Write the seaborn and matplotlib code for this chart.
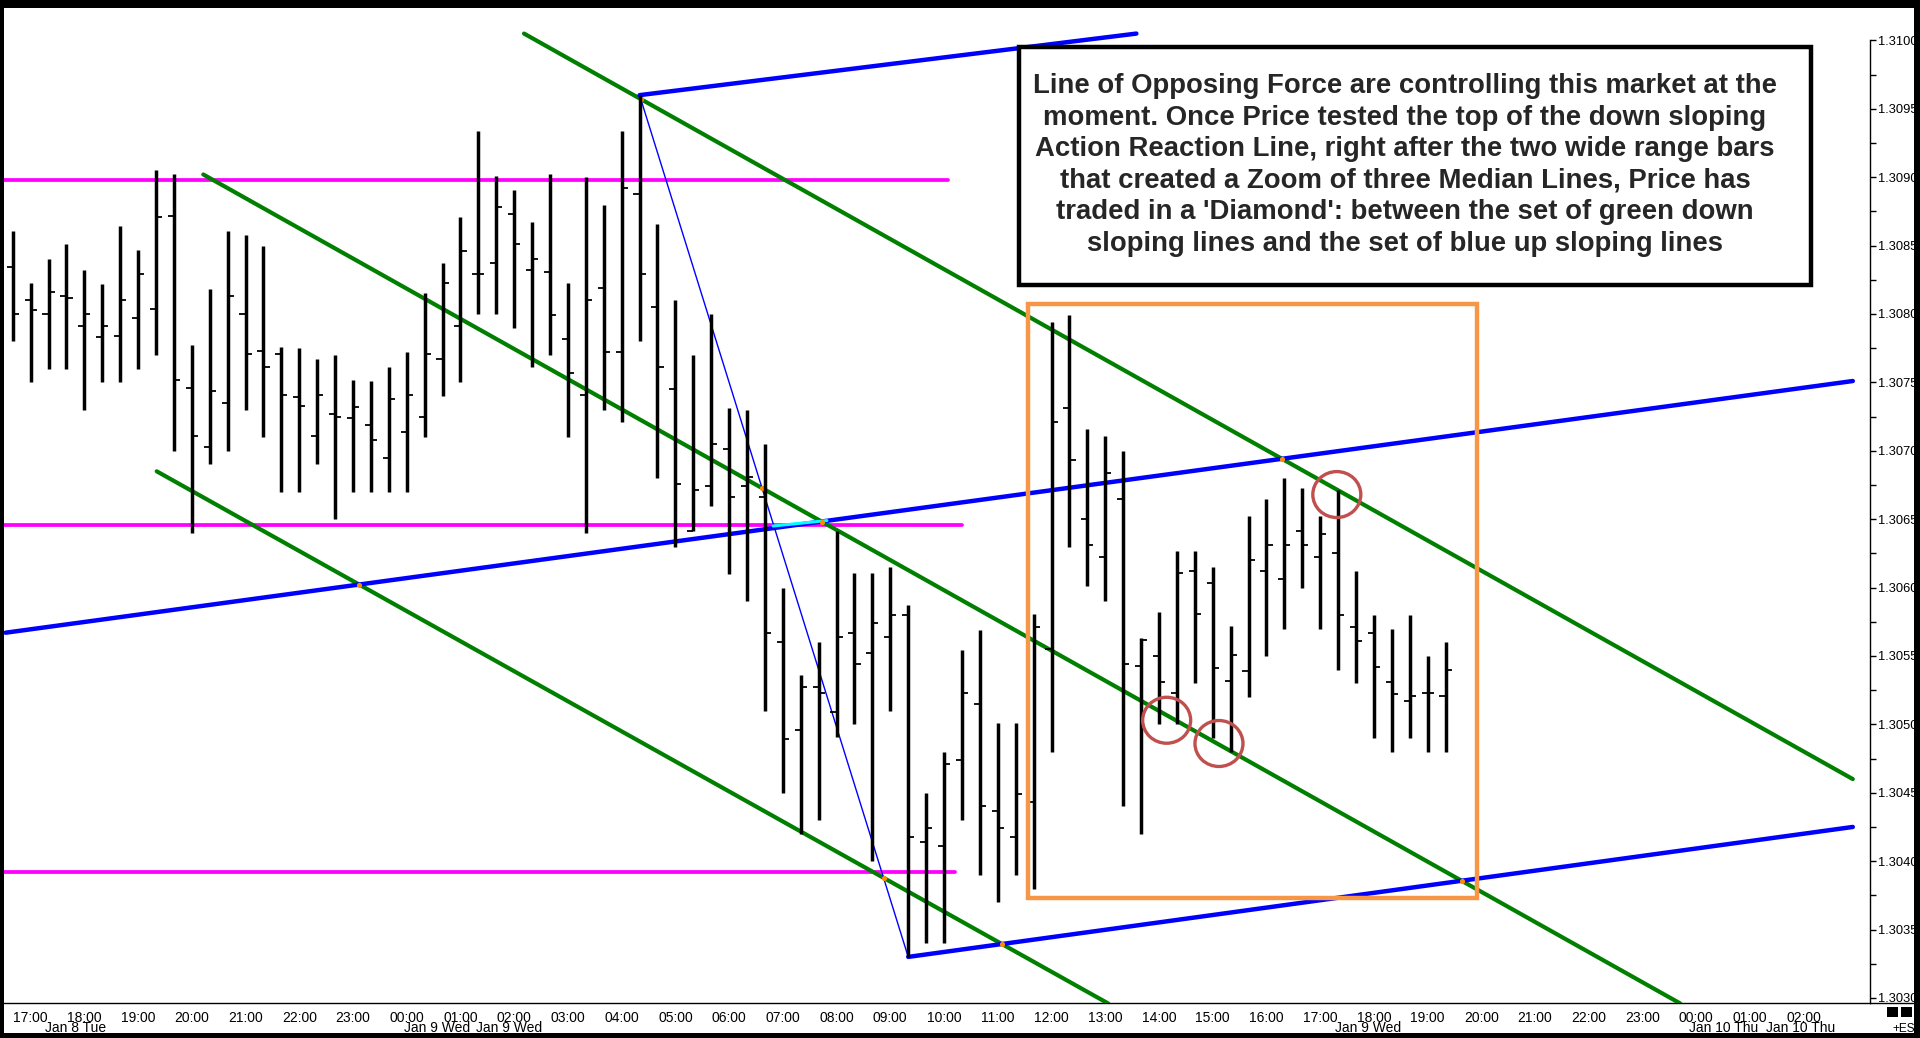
import numpy as np
import pandas as pd
import seaborn as sns
import matplotlib.pyplot as plt
from matplotlib.patches import Rectangle, Ellipse
from matplotlib.lines import Line2D
from matplotlib.ticker import MultipleLocator, FormatStrFormatter

# 20 minute EUR bars, Jan 8 16:40 -> Jan 9 19:20
opens = [1.30834, 1.30810, 1.30800, 1.30813, 1.30791, 1.30783, 1.30784, 1.30797, 1.30804, 1.30872,
         1.30746, 1.30703, 1.30735, 1.30800, 1.30773, 1.30771, 1.30739, 1.30711, 1.30727, 1.30724,
         1.30719, 1.30695, 1.30714, 1.30725, 1.30767, 1.30791, 1.30829, 1.30837, 1.30873, 1.30832,
         1.30831, 1.30782, 1.30741, 1.30819, 1.30772, 1.30888, 1.30805, 1.30745, 1.30641, 1.30674,
         1.30701, 1.30674, 1.30666, 1.30560, 1.30496, 1.30527, 1.30509, 1.30567, 1.30552, 1.30564,
         1.30580, 1.30414, 1.30411, 1.30474, 1.30515, 1.30437, 1.30418, 1.30443, 1.30555, 1.30731,
         1.30650, 1.30622, 1.30665, 1.30543, 1.30550, 1.30523, 1.30612, 1.30603, 1.30532, 1.30539,
         1.30612, 1.30606, 1.30641, 1.30622, 1.30625, 1.30571, 1.30567, 1.30531, 1.30517, 1.30523,
         1.30521]
highs = [1.30861, 1.30823, 1.30840, 1.30851, 1.30832, 1.30822, 1.30864, 1.30847, 1.30905, 1.30902,
         1.30777, 1.30818, 1.30861, 1.30858, 1.30850, 1.30776, 1.30775, 1.30767, 1.30770, 1.30752,
         1.30751, 1.30761, 1.30772, 1.30815, 1.30837, 1.30871, 1.30934, 1.30901, 1.30891, 1.30867,
         1.30902, 1.30823, 1.30900, 1.30880, 1.30934, 1.30960, 1.30866, 1.30810, 1.30770, 1.30800,
         1.30731, 1.30730, 1.30705, 1.30600, 1.30536, 1.30560, 1.30641, 1.30611, 1.30611, 1.30615,
         1.30587, 1.30450, 1.30480, 1.30554, 1.30569, 1.30501, 1.30501, 1.30581, 1.30794, 1.30799,
         1.30716, 1.30711, 1.30700, 1.30563, 1.30582, 1.30627, 1.30627, 1.30615, 1.30572, 1.30652,
         1.30665, 1.30680, 1.30673, 1.30652, 1.30671, 1.30612, 1.30580, 1.30570, 1.30580, 1.30550,
         1.30560]
lows = [1.30780, 1.30750, 1.30760, 1.30760, 1.30730, 1.30750, 1.30750, 1.30760, 1.30770, 1.30700,
        1.30640, 1.30690, 1.30700, 1.30730, 1.30710, 1.30670, 1.30670, 1.30690, 1.30650, 1.30670,
        1.30670, 1.30670, 1.30670, 1.30710, 1.30740, 1.30750, 1.30800, 1.30800, 1.30790, 1.30761,
        1.30770, 1.30710, 1.30640, 1.30730, 1.30721, 1.30780, 1.30680, 1.30630, 1.30641, 1.30660,
        1.30610, 1.30590, 1.30510, 1.30450, 1.30420, 1.30430, 1.30491, 1.30500, 1.30400, 1.30510,
        1.30330, 1.30340, 1.30340, 1.30430, 1.30390, 1.30370, 1.30390, 1.30380, 1.30480, 1.30630,
        1.30601, 1.30590, 1.30440, 1.30420, 1.30500, 1.30500, 1.30530, 1.30490, 1.30480, 1.30520,
        1.30550, 1.30570, 1.30600, 1.30570, 1.30540, 1.30530, 1.30490, 1.30480, 1.30490, 1.30480,
        1.30480]
closes = [1.30800, 1.30803, 1.30816, 1.30812, 1.30800, 1.30791, 1.30810, 1.30829, 1.30871, 1.30752,
          1.30711, 1.30744, 1.30813, 1.30771, 1.30761, 1.30741, 1.30733, 1.30741, 1.30725, 1.30732,
          1.30708, 1.30738, 1.30741, 1.30771, 1.30823, 1.30846, 1.30829, 1.30878, 1.30851, 1.30840,
          1.30799, 1.30757, 1.30810, 1.30772, 1.30892, 1.30829, 1.30761, 1.30676, 1.30671, 1.30705,
          1.30666, 1.30681, 1.30567, 1.30489, 1.30527, 1.30523, 1.30564, 1.30544, 1.30574, 1.30580,
          1.30418, 1.30424, 1.30471, 1.30523, 1.30440, 1.30424, 1.30449, 1.30571, 1.30721, 1.30693,
          1.30631, 1.30684, 1.30544, 1.30562, 1.30531, 1.30611, 1.30581, 1.30541, 1.30551, 1.30620,
          1.30631, 1.30631, 1.30631, 1.30639, 1.30580, 1.30561, 1.30542, 1.30522, 1.30521, 1.30523,
          1.30540]

hour_labels = ["17:00", "18:00", "19:00", "20:00", "21:00", "22:00", "23:00",
               "00:00", "01:00", "02:00", "03:00", "04:00", "05:00", "06:00", "07:00", "08:00",
               "09:00", "10:00", "11:00", "12:00", "13:00", "14:00", "15:00", "16:00", "17:00",
               "18:00", "19:00", "20:00", "21:00", "22:00", "23:00", "00:00", "01:00", "02:00"]
date_labels = ["Jan 8 Tue", "Jan 9 Wed", "Jan 9 Wed", "Jan 9 Wed", "Jan 10 Thu", "Jan 10 Thu"]
date_label_bar = [3.5, 23.7, 27.7, 75.7, 95.5, 99.8]

# line tools, endpoints as (bar, price)
green_lines = [((28.55, 1.31005), (102.74, 1.30460)),
               ((10.64, 1.30902), (93.10, 1.30296)),
               ((8.04, 1.30685), (61.16, 1.30296))]
blue_lines = [((35, 1.30960), (62.74, 1.31005)),
              ((-0.4, 1.30567), (102.74, 1.30751)),
              ((50, 1.30330), (102.74, 1.30425))]
pivot_line = ((35, 1.30960), (50, 1.30330))
magenta_levels = [1.30898, 1.30646, 1.30392]
magenta_end_bar = [52.2, 53.0, 52.6]
cyan_seg = ((42.45, 1.30645), (45.46, 1.30649))
zoom_box = (56.66, 81.75, 1.30373, 1.30807)
circle_bar = [64.43, 67.35, 73.93]
circle_price = [1.30503, 1.30486, 1.30668]

note = ["Line of Opposing Force are controlling this market at the",
        "moment. Once Price tested the top of the down sloping",
        "Action Reaction Line, right after the two wide range bars",
        "that created a Zoom of three Median Lines, Price has",
        "traded in a 'Diamond': between the set of green down",
        "sloping lines and the set of blue up sloping lines"]

sns.set_style("white")
plt.rcParams['font.family'] = ['Liberation Sans', 'DejaVu Sans']

W, H = 1920, 1038
fig = plt.figure(figsize=(W / 100, H / 100), dpi=100)
ax = fig.add_axes([4 / W, 35 / H, 1866 / W, 995 / H])
ax.set_xlim(-0.486, 103.7)
ax.set_ylim(1.302963, 1.310237)

df = pd.DataFrame({"o": opens, "h": highs, "l": lows, "c": closes})
df["bar"] = np.arange(len(df))

# lines
for seg in green_lines:
    sns.lineplot(x=[seg[0][0], seg[1][0]], y=[seg[0][1], seg[1][1]], ax=ax,
                 color="#007F00", lw=3.0, zorder=3)
for seg in blue_lines:
    sns.lineplot(x=[seg[0][0], seg[1][0]], y=[seg[0][1], seg[1][1]], ax=ax,
                 color="#0000FF", lw=3.2, zorder=3)
sns.lineplot(x=[pivot_line[0][0], pivot_line[1][0]], y=[pivot_line[0][1], pivot_line[1][1]],
             ax=ax, color="#0000FF", lw=1.0, zorder=3)
for lvl, end in zip(magenta_levels, magenta_end_bar):
    ax.plot([-0.486, end], [lvl, lvl], color="#FF00FF", lw=2.7, zorder=2,
            solid_capstyle="round")
ax.plot([cyan_seg[0][0], cyan_seg[1][0]], [cyan_seg[0][1], cyan_seg[1][1]],
        color="#00FFFF", lw=2.2, zorder=3.5)


def cross(a, b):
    (x1, y1), (x2, y2) = a
    (x3, y3), (x4, y4) = b
    m1 = (y2 - y1) / (x2 - x1)
    m2 = (y4 - y3) / (x4 - x3)
    x = (y3 - y1 + m1 * x1 - m2 * x3) / (m1 - m2)
    return x, y1 + m1 * (x - x1)


pairs = [(green_lines[0], pivot_line), (green_lines[0], blue_lines[1]),
         (green_lines[1], blue_lines[1]), (green_lines[2], blue_lines[1]),
         (green_lines[1], pivot_line), (green_lines[2], pivot_line),
         (green_lines[2], blue_lines[2]), (green_lines[1], blue_lines[2])]
pts = [cross(a, b) for a, b in pairs]
ax.scatter([p[0] for p in pts], [p[1] for p in pts], s=14, color="#FF8C00",
           marker="o", lw=0, zorder=4)

# OHLC bars
ax.vlines(df["bar"], df["l"], df["h"], color="black", lw=2.5, zorder=5)
ax.hlines(df["o"], df["bar"] - 0.34, df["bar"], color="black", lw=1.3, zorder=5)
ax.hlines(df["c"], df["bar"], df["bar"] + 0.34, color="black", lw=1.3, zorder=5)

# zoom box and circles
x0, x1, y0, y1 = zoom_box
ax.add_patch(Rectangle((x0, y0), x1 - x0, y1 - y0, fill=False, ec="#F79646", lw=3.2, zorder=6))
for cx, cy in zip(circle_bar, circle_price):
    ax.add_patch(Ellipse((cx, cy), 2.68, 0.000336, fill=False, ec="#C0504D", lw=2.4, zorder=6))

# axes styling
for s in ["top", "left"]:
    ax.spines[s].set_visible(False)
ax.spines["right"].set_bounds(1.302963, 1.3100)
ax.spines["right"].set_color("black")
ax.spines["right"].set_linewidth(1.0)
ax.spines["bottom"].set_color("black")
ax.spines["bottom"].set_linewidth(1.0)

ax.yaxis.tick_right()
ax.yaxis.set_major_locator(MultipleLocator(0.0005))
ax.yaxis.set_minor_locator(MultipleLocator(0.00025))
ax.yaxis.set_major_formatter(FormatStrFormatter("%.4f"))
ax.tick_params(axis="y", which="both", direction="out", length=4, width=1,
               colors="black", labelsize=9.3, pad=1.5, right=True, left=False)
ax.set_xticks(np.arange(1, 1 + 3 * len(hour_labels), 3))
ax.set_xticklabels(hour_labels)
ax.tick_params(axis="x", direction="out", length=4, width=1, labelsize=10, pad=1.5,
               colors="black")
for lab, pos in zip(date_labels, date_label_bar):
    ax.text(pos, -0.0255, lab, transform=ax.get_xaxis_transform(), ha="center",
            va="center", fontsize=10, color="black")
ax.grid(False)

# note box
fig.add_artist(Rectangle((1018.8 / W, 1 - 285.3 / H), (1811 - 1018.8) / W, (285.3 - 46.5) / H,
                         transform=fig.transFigure, fc="white", ec="black", lw=3.2, zorder=10))
for k, line in enumerate(note):
    yk = 86 + k * 31.6
    fig.text(1405 / W, 1 - yk / H, line, ha="center", va="center", fontsize=19.8,
             fontweight="bold", zorder=11)

# outer frame and extras
fig.add_artist(Line2D([1870 / W, 1913 / W], [35 / H, 35 / H], transform=fig.transFigure,
                      color="black", lw=1.0))
frame = [(0, 0, 4, H), (0, 0, W, 5), (0, H - 8, W, 8), (W - 6, 0, 6, H)]
for fx, fy, fw, fh in frame:
    fig.add_artist(Rectangle((fx / W, fy / H), fw / W, fh / H, transform=fig.transFigure,
                             fc="black", ec="none", zorder=20))
for sx in [1887, 1900.7]:
    fig.add_artist(Rectangle((sx / W, 1 - 1017.3 / H), 11 / W, 10.6 / H,
                             transform=fig.transFigure, fc="black", ec="none"))
fig.text(1904 / W, 1 - 1029 / H, "+ES", ha="center", va="center", fontsize=8.5, color="black")

fig.savefig("out.png", dpi=100)
